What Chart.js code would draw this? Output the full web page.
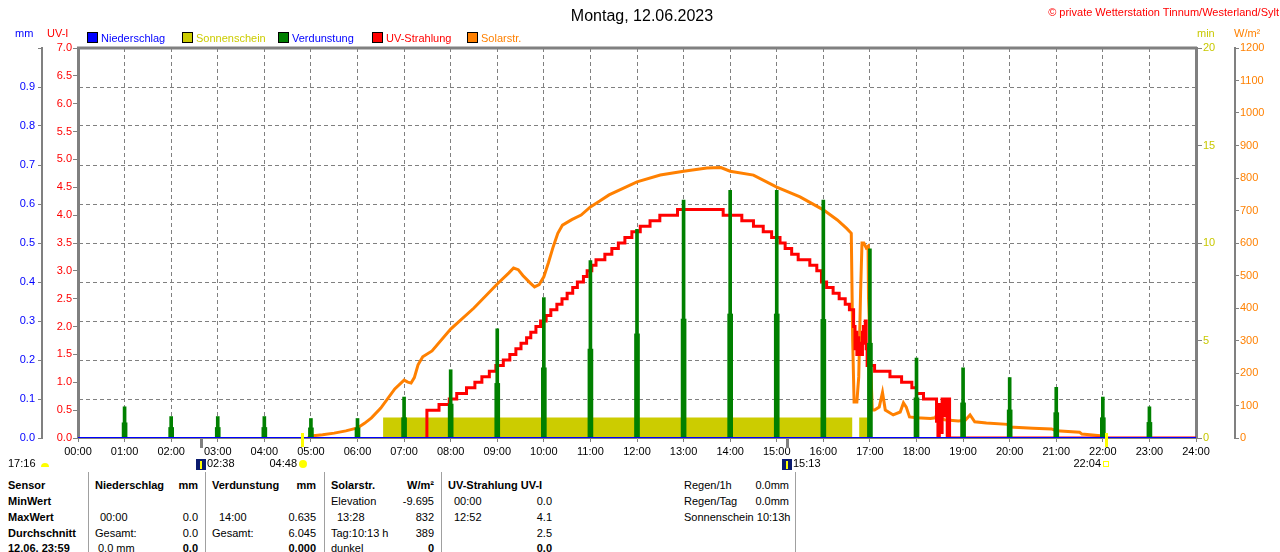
<!DOCTYPE html>
<html>
<head>
<meta charset="utf-8">
<script src="https://cdn.jsdelivr.net/npm/chart.js@4.4.0/dist/chart.umd.min.js"></script>
<style>
  body { margin: 0; width: 1280px; height: 552px; overflow: hidden; background: #fff; position: relative;
         font-family: "Liberation Sans", Arial, sans-serif; font-size: 11px; color: #000; }
  #chart { position: absolute; left: 0; top: 0; }
  .t { position: absolute; white-space: nowrap; line-height: 14px; }
  .box { position: absolute; width: 9px; height: 9px; border: 1px solid #000; }
  .vl { position: absolute; width: 1px; top: 472px; height: 80px; background: #a0a0a0; }
</style>
</head>
<body>
<canvas id="chart" width="1280" height="472"></canvas>
<script>
// Verdunstung (mm), one spike per hour, with its lower wider part
const evapHours = [1, 2, 3, 4, 5, 6, 7, 8, 9, 10, 11, 12, 13, 14, 15, 16, 17, 18, 19, 20, 21, 22, 23];
const evapMm = [0.08, 0.055, 0.055, 0.055, 0.05, 0.05, 0.105, 0.175, 0.28, 0.36, 0.455, 0.535, 0.61,
  0.635, 0.635, 0.61, 0.485, 0.205, 0.18, 0.155, 0.13, 0.105, 0.08];
const evapLowMm = [0.039, 0.027, 0.027, 0.027, 0.026, 0.026, 0.052, 0.087, 0.14, 0.18, 0.228, 0.267, 0.305,
  0.318, 0.318, 0.304, 0.243, 0.103, 0.09, 0.072, 0.065, 0.052, 0.04];

// Niederschlag (mm)
const rainHours = [0, 6, 12, 18, 24];
const rainMm = [0, 0, 0, 0, 0];

// Sonnenschein (min)
const sunHours = [0, 6.55, 16.62, 16.77, 16.99, 24];
const sunMin = [0, 1.05, 0, 1.05, 0, 0];

// UV-Strahlung (UV-I), stepped
const uvHours = [7.47, 7.49, 7.75, 7.97, 8.13, 8.34, 8.52, 8.67, 8.83, 8.97, 9.13, 9.27, 9.40, 9.51, 9.63,
  9.72, 9.83, 9.93, 10.05, 10.15, 10.28, 10.39, 10.50, 10.62, 10.72, 10.85, 10.93, 11.03, 11.12, 11.31,
  11.46, 11.60, 11.74, 11.89, 12.07, 12.28, 12.49, 12.87, 13.85, 14.25, 14.50, 14.71, 14.89, 15.07,
  15.18, 15.32, 15.46, 15.71, 15.86, 15.96, 16.07, 16.21, 16.34, 16.47, 16.56, 16.65, 16.68, 16.70,
  16.72, 16.74, 16.76, 16.78, 16.80, 16.82, 16.84, 16.86, 16.88, 16.90, 16.92, 16.94, 16.96, 17.10,
  17.43, 17.68, 17.90, 18.00, 18.15, 18.43, 18.46, 18.49, 18.52, 18.55, 18.58, 18.62, 18.66, 18.68,
  18.71, 24];
const uvIndex = [0.0, 0.5, 0.6, 0.7, 0.8, 0.9, 1.0, 1.1, 1.2, 1.3, 1.4, 1.5, 1.6, 1.7, 1.8,
  1.9, 2.0, 2.1, 2.2, 2.3, 2.4, 2.5, 2.6, 2.7, 2.8, 2.9, 3.0, 3.1, 3.2, 3.3,
  3.4, 3.5, 3.6, 3.7, 3.8, 3.9, 4.0, 4.1, 4.0, 3.9, 3.8, 3.7, 3.6, 3.5,
  3.4, 3.3, 3.2, 3.1, 3.0, 2.8, 2.7, 2.6, 2.5, 2.4, 2.3, 2.0, 1.6, 1.9,
  1.5, 1.8, 1.6, 1.5, 1.7, 1.5, 1.9, 2.0, 1.7, 2.1, 1.6, 1.3, 1.3, 1.2,
  1.1, 1.0, 0.9, 0.8, 0.7, 0.3, 0.0, 0.6, 0.1, 0.7, 0.4, 0.7, 0.0, 0.7,
  0.0, 0.0];

// Solarstrahlung (W/m²)
const solarHours = [4.94, 5.0, 5.25, 5.5, 5.75, 6.0, 6.15, 6.3, 6.5, 6.8, 7.0, 7.08, 7.15, 7.22, 7.3, 7.4,
  7.6, 8.0, 8.5, 9.0, 9.25, 9.35, 9.45, 9.55, 9.7, 9.8, 9.9, 10.0, 10.1, 10.2, 10.3, 10.4, 10.6, 10.8,
  11.0, 11.2, 11.4, 11.7, 12.0, 12.5, 13.0, 13.5, 13.8, 14.0, 14.5, 15.0, 15.5, 16.0, 16.3, 16.5, 16.6,
  16.63, 16.66, 16.72, 16.76, 16.8, 16.83, 16.87, 16.92, 16.96, 16.97, 17.05, 17.1, 17.2, 17.27, 17.33,
  17.5, 17.65, 17.72, 17.78, 17.85, 18.0, 18.3, 18.4, 18.45, 18.52, 18.6, 18.9, 19.05, 19.15, 19.25,
  19.5, 19.95, 20.0, 20.5, 20.9, 21.0, 21.5, 21.55, 22.0, 22.08];
const solarW = [0, 6, 10, 15, 22, 31, 45, 62, 92, 151, 178, 172, 169, 186, 225, 250,
  268, 335, 400, 474, 508, 523, 518, 500, 478, 465, 472, 496, 540, 588, 630, 655, 672, 686,
  711, 729, 748, 768, 788, 809, 821, 831, 832, 821, 809, 772, 742, 702, 671, 645, 630,
  300, 111, 111, 188, 450, 600, 600, 585, 590, 430, 86, 86, 95, 140, 86,
  71, 80, 108, 95, 65, 62, 60, 62, 76, 62, 56, 52, 55, 71, 50,
  46, 42, 34, 30, 28, 22, 18, 12, 6, 0];

// x axis markers below the plot
const eventTimes = ['02:38', '04:48', '15:13', '22:04'];
const eventKinds = ['moon', 'rise', 'moon', 'set'];

const FONT = '"Liberation Sans", Arial, sans-serif';
Chart.defaults.font.family = FONT;
Chart.defaults.font.size = 11;

function zip(xs, ys) {
  return xs.map((x, i) => ({ x: x, y: ys[i] }));
}
function toHours(s) {
  const p = s.split(':');
  return +p[0] + p[1] / 60;
}

const GRID = '#808080';

const markers = {
  id: 'markers',
  afterDraw(chart) {
    const ctx = chart.ctx, a = chart.chartArea, xs = chart.scales.x;
    ctx.save();
    // top frame line
    ctx.strokeStyle = GRID;
    ctx.lineWidth = 3;
    ctx.beginPath();
    ctx.moveTo(a.left - 1, a.top);
    ctx.lineTo(a.right + 1, a.top);
    ctx.stroke();

    ctx.font = '11px ' + FONT;
    ctx.textBaseline = 'middle';
    eventTimes.forEach((t, i) => {
      const x = Math.round(xs.getPixelForValue(toHours(t)));
      const kind = eventKinds[i];
      ctx.fillStyle = kind === 'moon' ? GRID : '#ffff00';
      ctx.fillRect(x - 1, kind === 'moon' ? a.bottom + 1 : a.bottom - 5, 3, kind === 'moon' ? 9 : 14);
      if (kind === 'moon') {
        ctx.fillStyle = '#0a1a6e';
        ctx.fillRect(x - 5, 459, 10, 11);
        ctx.fillStyle = '#ffff00';
        ctx.fillRect(x - 1, 461, 2, 8);
        ctx.fillStyle = '#000';
        ctx.textAlign = 'left';
        ctx.fillText(t, x + 6, 464);
      } else if (kind === 'rise') {
        ctx.fillStyle = '#ffff00';
        ctx.beginPath();
        ctx.arc(x + 1, 464, 4, 0, Math.PI * 2);
        ctx.fill();
        ctx.fillStyle = '#000';
        ctx.textAlign = 'right';
        ctx.fillText(t, x - 5, 464);
      } else {
        ctx.strokeStyle = '#ffff00';
        ctx.lineWidth = 1;
        ctx.strokeRect(x - 2.5, 461.5, 5, 5);
        ctx.fillStyle = '#000';
        ctx.textAlign = 'right';
        ctx.fillText(t, x - 5, 464);
      }
    });
    // moon time at the left edge
    ctx.textAlign = 'left';
    ctx.fillStyle = '#000';
    ctx.fillText('17:16', 8, 464);
    ctx.fillStyle = '#ffff00';
    ctx.beginPath();
    ctx.arc(45, 467, 4, Math.PI, 0);
    ctx.fill();
    ctx.restore();
  }
};

new Chart(document.getElementById('chart').getContext('2d'), {
  type: 'line',
  data: {
    datasets: [
      { label: 'Niederschlag', data: zip(rainHours, rainMm), yAxisID: 'mm', borderColor: '#0000ff',
        borderWidth: 2, pointRadius: 0, order: 0 },
      { label: 'Sonnenschein', data: zip(sunHours, sunMin), yAxisID: 'min', stepped: true, fill: 'origin',
        backgroundColor: '#cccc00', borderColor: '#cccc00', borderWidth: 0, pointRadius: 0, order: 5 },
      { type: 'bar', label: 'Verdunstung', data: zip(evapHours, evapMm), yAxisID: 'mm', grouped: false,
        backgroundColor: '#008000', barThickness: 3, order: 1 },
      { type: 'bar', label: 'Verdunstung (Teil)', data: zip(evapHours, evapLowMm), yAxisID: 'mm', grouped: false,
        backgroundColor: '#008000', barThickness: 5, order: 1 },
      { label: 'UV-Strahlung', data: zip(uvHours, uvIndex), yAxisID: 'uv', stepped: true,
        borderColor: '#ff0000', borderWidth: 3, pointRadius: 0, order: 2 },
      { label: 'Solarstr.', data: zip(solarHours, solarW), yAxisID: 'wm2',
        borderColor: '#ff8000', borderWidth: 3, pointRadius: 0, order: 3 }
    ]
  },
  options: {
    responsive: false,
    animation: false,
    layout: { padding: { top: 48, bottom: 12, left: 0, right: 0 } },
    plugins: { legend: { display: false }, tooltip: { enabled: false } },
    scales: {
      x: {
        type: 'linear', min: 0, max: 24, offset: false,
        ticks: { stepSize: 1, color: '#000', padding: 3, maxRotation: 0, autoSkip: false,
          callback: v => String(v).padStart(2, '0') + ':00' },
        grid: { color: GRID, offset: false, tickLength: 4, tickColor: GRID, tickBorderDash: [] },
        border: { dash: [4, 3], color: GRID, width: 1 },
        afterFit: s => { s.height = 22; }
      },
      mm: {
        position: 'left', weight: 1, min: 0, max: 1,
        ticks: { stepSize: 0.1, color: '#0000ff', padding: 3,
          callback: v => v > 0.95 ? '' : v.toFixed(1) },
        grid: { color: GRID, tickLength: 4, tickColor: GRID, tickBorderDash: [] },
        border: { dash: [4, 3], color: GRID, width: 2 },
        afterFit: s => { s.width = 42; }
      },
      uv: {
        position: 'left', weight: 0, min: 0, max: 7,
        ticks: { stepSize: 0.5, color: '#ff0000', padding: 1, callback: v => v.toFixed(1) },
        grid: { drawOnChartArea: false, tickLength: 5, tickColor: GRID },
        border: { color: GRID, width: 3 },
        afterFit: s => { s.width = 36; }
      },
      min: {
        position: 'right', weight: 0, min: 0, max: 20,
        ticks: { stepSize: 5, color: '#c8c800', padding: 1, callback: v => String(v) },
        grid: { drawOnChartArea: false, tickLength: 6, tickColor: GRID },
        border: { color: GRID, width: 3 },
        afterFit: s => { s.width = 39; }
      },
      wm2: {
        position: 'right', weight: 1, min: 0, max: 1200,
        ticks: { stepSize: 100, color: '#ff8000', padding: 1, callback: v => String(v) },
        grid: { drawOnChartArea: false, tickLength: 4, tickColor: GRID },
        border: { color: GRID, width: 2 },
        afterFit: s => { s.width = 45; }
      }
    }
  },
  plugins: [markers]
});

// texts around the chart
function put(text, x, y, o) {
  o = o || {};
  const d = document.createElement('div');
  d.className = 't';
  d.textContent = text;
  const size = o.size || 11;
  d.style.fontSize = size + 'px';
  d.style.lineHeight = (size + 3) + 'px';
  d.style.top = (y - (size + 3) / 2) + 'px';
  if (o.right) d.style.right = (1280 - x) + 'px';
  else if (o.center) { d.style.left = x + 'px'; d.style.transform = 'translateX(-50%)'; }
  else d.style.left = x + 'px';
  if (o.color) d.style.color = o.color;
  if (o.bold) d.style.fontWeight = 'bold';
  document.body.appendChild(d);
}

put('Montag, 12.06.2023', 642, 15, { center: true, size: 16 });
put('© private Wetterstation Tinnum/Westerland/Sylt', 1279, 12, { right: true, color: '#ff0000' });
put('mm', 15, 33, { color: '#0000ff' });
put('UV-I', 47, 33, { color: '#ff0000' });
put('min', 1197, 33, { color: '#c8c800' });
put('W/m²', 1234, 33, { color: '#ff8000' });

// legend
const legendNames = ['Niederschlag', 'Sonnenschein', 'Verdunstung', 'UV-Strahlung', 'Solarstr.'];
const legendBoxes = ['#0000ff', '#cccc00', '#008000', '#ff0000', '#ff8000'];
const legendTexts = ['#0000ff', '#cccc00', '#0000ff', '#ff0000', '#ff8000'];
const legendX = [87, 182, 278, 372, 467];
legendNames.forEach((n, i) => {
  const b = document.createElement('div');
  b.className = 'box';
  b.style.left = legendX[i] + 'px';
  b.style.top = '32px';
  b.style.background = legendBoxes[i];
  document.body.appendChild(b);
  put(n, legendX[i] + 14, 38, { color: legendTexts[i] });
});

// table below the chart
[88, 205, 324, 441, 795].forEach(x => {
  const l = document.createElement('div');
  l.className = 'vl';
  l.style.left = x + 'px';
  document.body.appendChild(l);
});
const rowY = [485, 501, 517, 533, 548];
put('Sensor', 8, rowY[0], { bold: true });
put('MinWert', 8, rowY[1], { bold: true });
put('MaxWert', 8, rowY[2], { bold: true });
put('Durchschnitt', 8, rowY[3], { bold: true });
put('12.06. 23:59', 8, rowY[4], { bold: true });

put('Niederschlag', 95, rowY[0], { bold: true });
put('mm', 198, rowY[0], { bold: true, right: true });
put('00:00', 100, rowY[2]);
put('0.0', 198, rowY[2], { right: true });
put('Gesamt:', 95, rowY[3]);
put('0.0', 198, rowY[3], { right: true });
put('0.0 mm', 98, rowY[4]);
put('0.0', 198, rowY[4], { right: true, bold: true });

put('Verdunstung', 212, rowY[0], { bold: true });
put('mm', 316, rowY[0], { bold: true, right: true });
put('14:00', 219, rowY[2]);
put('0.635', 316, rowY[2], { right: true });
put('Gesamt:', 212, rowY[3]);
put('6.045', 316, rowY[3], { right: true });
put('0.000', 316, rowY[4], { right: true, bold: true });

put('Solarstr.', 331, rowY[0], { bold: true });
put('W/m²', 434, rowY[0], { bold: true, right: true });
put('Elevation', 331, rowY[1]);
put('-9.695', 434, rowY[1], { right: true });
put('13:28', 337, rowY[2]);
put('832', 434, rowY[2], { right: true });
put('Tag:10:13 h', 331, rowY[3]);
put('389', 434, rowY[3], { right: true });
put('dunkel', 331, rowY[4]);
put('0', 434, rowY[4], { right: true, bold: true });

put('UV-Strahlung UV-I', 448, rowY[0], { bold: true });
put('00:00', 454, rowY[1]);
put('0.0', 552, rowY[1], { right: true });
put('12:52', 454, rowY[2]);
put('4.1', 552, rowY[2], { right: true });
put('2.5', 552, rowY[3], { right: true });
put('0.0', 552, rowY[4], { right: true, bold: true });

put('Regen/1h', 684, rowY[0]);
put('0.0mm', 789, rowY[0], { right: true });
put('Regen/Tag', 684, rowY[1]);
put('0.0mm', 789, rowY[1], { right: true });
put('Sonnenschein 10:13h', 684, rowY[2]);
</script>
</body>
</html>
